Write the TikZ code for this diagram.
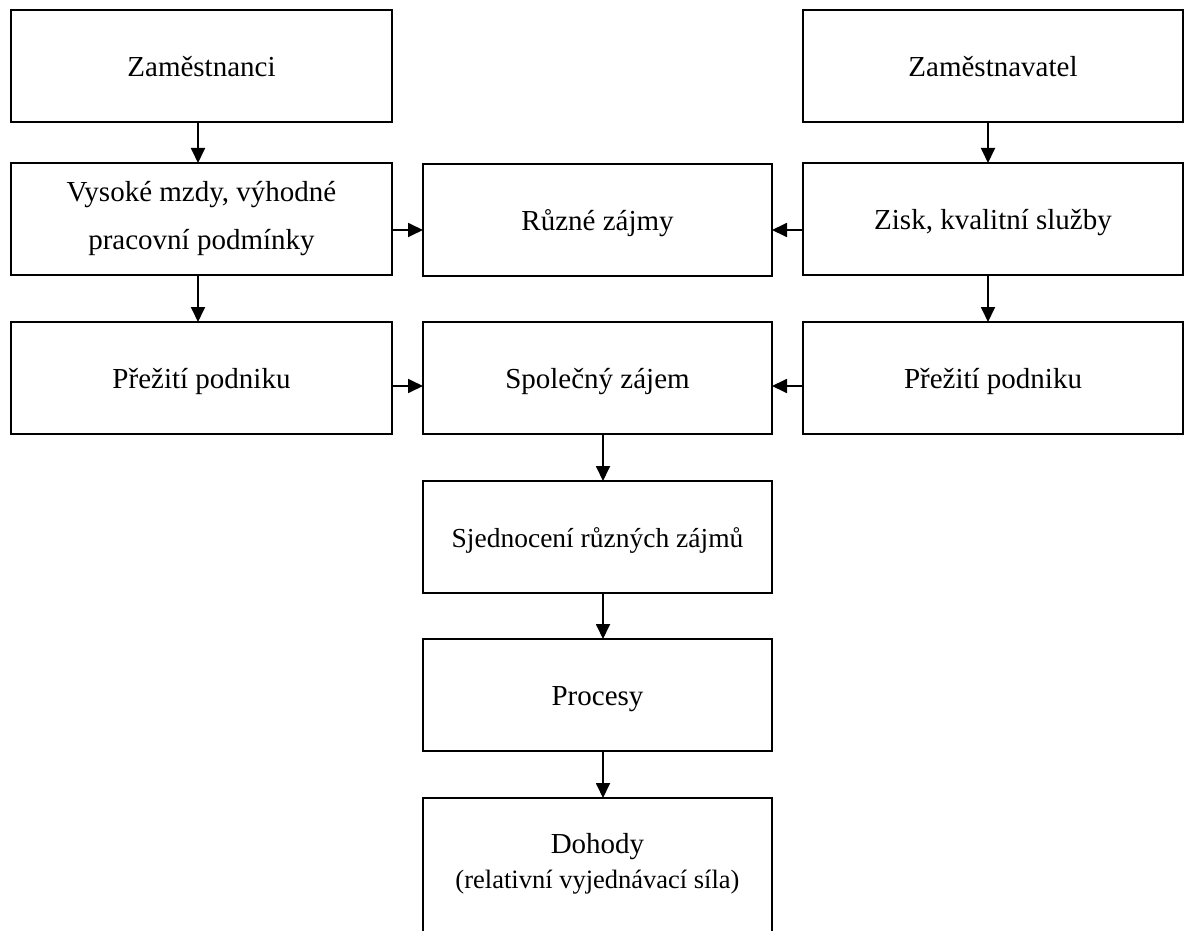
\documentclass[tikz,border=0pt]{standalone}
\usepackage{fontspec}
\setmainfont{Liberation Serif}
\usetikzlibrary{arrows.meta}
\begin{document}
\begin{tikzpicture}[x=1pt,y=-1pt,
  box/.style={draw, line width=1.8pt, inner sep=0pt, outer sep=0pt, minimum height=112pt,
    font=\fontsize{29}{48}\selectfont, align=center},
  sl/.style={text height=26pt, text depth=5.5pt},
  lbl/.style={font=\fontsize{29}{35}\selectfont, align=center, inner sep=0pt},
  arr/.style={line width=1.8pt, -{Triangle[length=15pt,width=14pt]}}]
\useasboundingbox (0,0) rectangle (1184,931);
\clip (0,0) rectangle (1184,931);
\node[box, sl, minimum width=381pt] (A) at (201.5,66) {Zaměstnanci};
\node[box, sl, minimum width=380pt] (B) at (993,66) {Zaměstnavatel};
\node[box, minimum width=381pt] (C) at (201.5,219) {Vysoké mzdy, výhodné\\pracovní podmínky};
\node[box, sl, minimum width=349pt] (D) at (597.5,220) {Různé zájmy};
\node[box, sl, minimum width=380pt] (E) at (993,219) {Zisk, kvalitní služby};
\node[box, sl, minimum width=381pt] (F) at (201.5,378) {Přežití podniku};
\node[box, sl, minimum width=349pt] (G) at (597.5,378) {Společný zájem};
\node[box, sl, minimum width=380pt] (H) at (993,378) {Přežití podniku};
\node[box, sl, minimum width=349pt, font=\fontsize{27.5}{48}\selectfont] (I) at (597.5,537) {Sjednocení různých zájmů};
\node[box, sl, minimum width=349pt] (J) at (597.5,695) {Procesy};
\node[box, minimum width=349pt, minimum height=170pt, anchor=north] (K) at (597.5,798) {};
\node[lbl, anchor=north] (Kt) at (597.5,833) {Dohody\\{\fontsize{26.5}{35}\selectfont (relativní vyjednávací síla)}};
\draw[arr] ([xshift=-3.5pt]A.south) -- ([xshift=-3.5pt]C.north);
\draw[arr] ([xshift=-3.5pt]C.south) -- ([xshift=-3.5pt]F.north);
\draw[arr] ([xshift=-5pt]B.south) -- ([xshift=-5pt]E.north);
\draw[arr] ([xshift=-5pt]E.south) -- ([xshift=-5pt]H.north);
\draw[arr] ([yshift=-11pt]C.east) -- ([yshift=-11pt]C.east -| D.west);
\draw[arr] ([yshift=-11pt]E.west) -- ([yshift=-11pt]E.west -| D.east);
\draw[arr] ([yshift=-8pt]F.east) -- ([yshift=-8pt]F.east -| G.west);
\draw[arr] ([yshift=-8pt]H.west) -- ([yshift=-8pt]H.west -| G.east);
\draw[arr] ([xshift=5.5pt]G.south) -- ([xshift=5.5pt]I.north);
\draw[arr] ([xshift=5.5pt]I.south) -- ([xshift=5.5pt]J.north);
\draw[arr] ([xshift=5.5pt]J.south) -- ([xshift=5.5pt]K.north);
\end{tikzpicture}
\end{document}
